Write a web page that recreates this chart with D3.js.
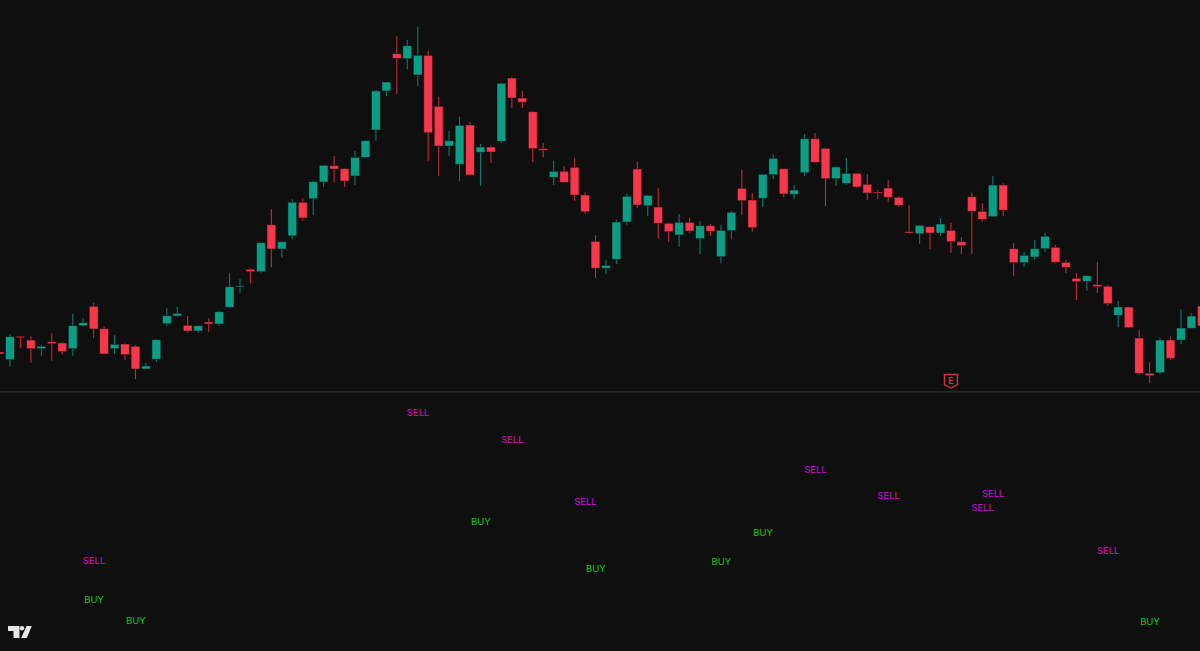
<!DOCTYPE html>
<html>
<head>
<meta charset="utf-8">
<script src="https://cdn.jsdelivr.net/npm/d3@7"></script>
<style>
html, body { margin: 0; padding: 0; background: #0f0f0f; overflow: hidden; }
svg { display: block; }
</style>
</head>
<body>
<div id="chart"></div>
<script>
const open = [40,32.3,55.7,52,43.3,50.3,49,43.3,66.3,85.7,63.3,43.3,48,45.7,23,32.7,68.3,76,66.7,61,70,68,84.7,105.3,122.7,120.3,167.3,143,156.3,189.7,193.3,210,226.3,223.3,216,234.7,262,301,338.3,333.3,317,336.7,285.7,246,227.7,267,239.7,245,250.7,314,294,280.3,243.3,214.7,220.7,224.7,197,150.7,123.7,132.7,170,223,186.3,185,168.7,157,169.7,153.3,166.3,135.3,161.3,203.7,192,193.7,217.3,223.3,197.7,219.3,253.3,243.7,213.3,208.7,218.7,207.7,200,204,194.7,160.3,158.3,165.3,159,161.7,150.3,195.3,180.7,175.3,207,143.3,129.3,135,143.3,144.7,129.7,113.7,110.7,107.3,105.7,76.7,85,54,18.7,19.3,52,52,63.7,86];
const high = [40.5,57.7,55.7,55.7,47,58.7,50,78,73.7,89.3,65.3,56.7,48.7,47,29.3,53,84,85,76,66.3,73.7,81.3,118.7,113,123.7,149.3,183,150.3,192.7,193.7,211.3,226.7,236,224.3,241,252,302,310,356,352,365.3,341.3,295.3,261.3,275.3,270.3,248,247,309.3,315,301.3,281,249,231,226,233.7,199.7,156.7,131.7,172,198.3,230,196.7,203.7,169.7,178,174,171,168,167,181,222,198.7,217.7,237.7,223.7,207,258,259,244.7,226,234,219.3,217.7,202,211.7,196,187,166.7,166,173.7,169.3,154.7,199.3,188.7,216,208.7,148.7,140.3,152,159,147,132,118.7,116.3,130,107,91,85,61.7,29.7,53.7,55.3,82.7,78.7,89];
const low = [37.5,25.3,43.7,29.3,36.3,31.3,37.7,36.3,65.3,53.7,38,38.3,32,12.7,23,30,66,75.3,59.3,59.3,60.3,66.3,84,99.3,108.7,119.3,124.7,134.3,152.7,171.3,177.3,205.3,209.3,205.3,207,234,251.3,296,298,322.7,306,231,216,236,210.7,216.3,206.3,228.7,249,284,284,230,234.7,207,209,191.3,178.3,114,117.7,127.7,167.3,184,176,153.3,150.3,145,159.3,138,156,128.7,153.3,177,160.3,184.7,212.7,195,192.7,215.7,229.3,186,206,207.3,204,192,193,189.7,185.3,158.3,148.3,143,156,139.3,138.3,138.3,170.3,175.3,176,116.3,125.3,132,140.3,128.7,119,92,101.3,99,86,64.7,64.3,17.7,9,18,32,47.7,63.7,62];
const close = [38,55.3,54.3,43.3,45.7,48.3,40.3,66.3,69.3,63,38,47.7,37.3,23,26,52.3,76.3,78.7,61,66.3,68,80.3,105.3,106.3,120.3,149.3,143,150.3,189.7,174,210.3,226.7,223,211,234.7,251.3,301,310,333.7,346.3,336.7,259.3,246,251.3,266.7,217,245,240,308.7,294,289.7,243.3,241.7,220.7,209.7,197,180.3,123.7,126.7,170,195.7,187,196.7,168.7,160.3,169.7,161,166.3,160.7,161.7,179.7,191.3,164.3,217.7,233.7,198,202,253.3,229.7,213.3,225,218.7,205,199,199.3,194.7,186.7,159,166.7,159,168,150.3,146.3,180.7,172.7,207,181.7,129.3,136.7,143.3,155.7,129.7,124.7,110.3,116.3,105.3,88.3,85,64.3,18.7,16.3,52,33.7,64,76,66];

const signalTypes = ["SELL","BUY","BUY","SELL","BUY","SELL","SELL","BUY","BUY","BUY","SELL","SELL","SELL","SELL","SELL","BUY"];
const signalBars = [8,8,12,39,45,48,55,56,68,72,77,84,93,94,105,109];
const signalValues = [90,51,30,238,129,211,149,82,89,118,181,155,143,157,100,29];

const earningsBar = 90;

const width = 1200, height = 651, paneSplit = 392;
const upColor = "#0a9e85", downColor = "#f7374b";

const bars = open.map((o, i) => ({ bar: i - 1, open: o, high: high[i], low: low[i], close: close[i] }));

const x = d3.scaleLinear().domain([-1, 114]).range([-0.455, 1201.87]);
const y = d3.scaleLinear().domain([0, paneSplit]).range([paneSplit, 0]);
const y2 = d3.scaleLinear().domain([0, height - paneSplit]).range([height, paneSplit]);

const svg = d3.select("#chart").append("svg")
  .attr("width", width)
  .attr("height", height);

svg.append("rect").attr("width", width).attr("height", height).attr("fill", "#0f0f0f");

// pane separator
svg.append("rect")
  .attr("x", 0).attr("y", paneSplit - 1)
  .attr("width", width).attr("height", 1.5)
  .attr("fill", "#262626");

const candles = svg.append("g").selectAll("g").data(bars).join("g");
const col = d => d.close >= d.open ? upColor : downColor;

candles.append("line")
  .attr("x1", d => x(d.bar)).attr("x2", d => x(d.bar))
  .attr("y1", d => y(d.high)).attr("y2", d => y(d.low))
  .attr("stroke", col)
  .attr("stroke-opacity", 0.75)
  .attr("stroke-width", 1.1);

const bodyW = 8.8;
candles.append("rect")
  .attr("x", d => x(d.bar) - bodyW / 2)
  .attr("width", bodyW)
  .attr("y", d => y(Math.max(d.open, d.close)))
  .attr("height", d => Math.max(1.2, Math.abs(y(d.open) - y(d.close))))
  .attr("fill", col)
  .attr("stroke", "#070707")
  .attr("stroke-opacity", 0.55)
  .attr("stroke-width", 0.8);

// BUY / SELL labels in the lower pane
svg.append("g").selectAll("text")
  .data(signalTypes)
  .join("text")
  .attr("x", (d, i) => x(signalBars[i]) + 0.4)
  .attr("y", (d, i) => y2(signalValues[i]) - 0.3)
  .attr("dy", "0.35em")
  .attr("text-anchor", "middle")
  .attr("font-family", "Inter, Roboto, sans-serif")
  .attr("font-size", 9.5)
  .attr("fill", d => d === "BUY" ? "#12c812" : "#d80cd8")
  .text(d => d);

// earnings flag
const flag = svg.append("g").attr("transform", `translate(${x(earningsBar)},381)`);
flag.append("path")
  .attr("d", "M-6.5,-6.5H6.5V3.5L0,7L-6.5,3.5Z")
  .attr("fill", "none")
  .attr("stroke", "#d0303c")
  .attr("stroke-width", 1.4);
flag.append("text")
  .attr("y", 3.3)
  .attr("text-anchor", "middle")
  .attr("font-family", "Inter, Roboto, sans-serif")
  .attr("font-size", 8.5)
  .attr("font-weight", 700)
  .attr("fill", "#d0303c")
  .text("E");

// logo
const logo = svg.append("g").attr("fill", "#e6e6e6");
logo.append("path").attr("d", "M8,626H19.5V638H13.5V631H8Z");
logo.append("circle").attr("cx", 22).attr("cy", 628.3).attr("r", 2.2);
logo.append("path").attr("d", "M26.5,626H31.8L26.8,638H21.2Z");
</script>
</body>
</html>
